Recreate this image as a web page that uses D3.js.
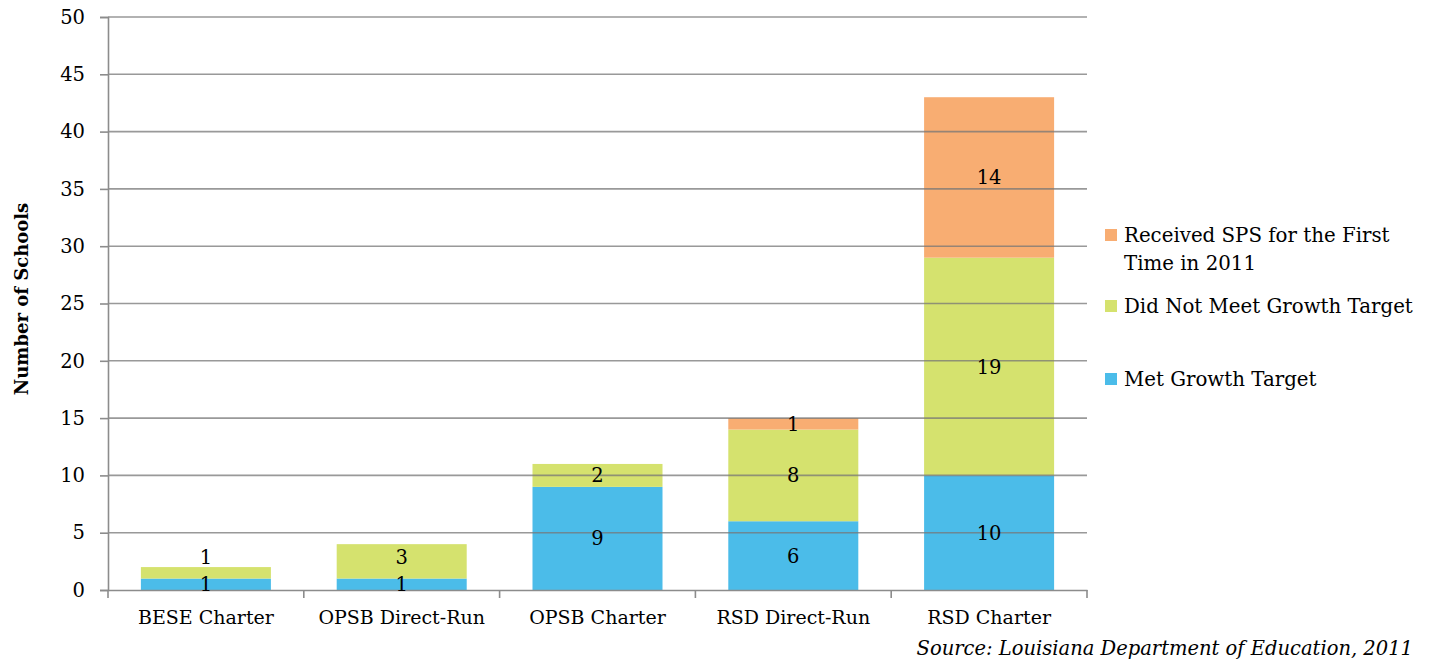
<!DOCTYPE html>
<html>
<head>
<meta charset="utf-8">
<script src="https://cdn.jsdelivr.net/npm/d3@7"></script>
<style>
  body { margin: 0; background: #fff; }
  text { font-family: "DejaVu Serif", serif; fill: #000; }
</style>
</head>
<body>
<div id="chart"></div>
<script>
// data
const categories = ["BESE Charter", "OPSB Direct-Run", "OPSB Charter", "RSD Direct-Run", "RSD Charter"];
const metGrowth = [1, 1, 9, 6, 10];
const notMetGrowth = [1, 3, 2, 8, 19];
const firstSps = [0, 0, 0, 1, 14];
const seriesNames = ["Met Growth Target", "Did Not Meet Growth Target", "Received SPS for the First Time in 2011"];
const yTicks = [0, 5, 10, 15, 20, 25, 30, 35, 40, 45, 50];

const colors = ["#4bbce9", "#d5e26e", "#f8ad72"];

const svgWidth = 1432;
const svgHeight = 662;
const margin = { top: 17, right: 345, bottom: 72, left: 108 };
const width = svgWidth - margin.left - margin.right;
const height = svgHeight - margin.top - margin.bottom;

const svg = d3.select("#chart")
    .append("svg")
    .attr("width", svgWidth)
    .attr("height", svgHeight);

const chartGroup = svg.append("g")
    .attr("transform", `translate(${margin.left}, ${margin.top})`);

const rows = categories.map((c, i) => ({
    cat: c, met: metGrowth[i], notMet: notMetGrowth[i], first: firstSps[i]
}));
const keys = ["met", "notMet", "first"];
const stacked = d3.stack().keys(keys)(rows);

const x = d3.scaleBand()
    .domain(categories)
    .range([0, width])
    .paddingInner(0.336)
    .paddingOuter(0.168);

const y = d3.scaleLinear()
    .domain([0, 50])
    .range([height, 0]);

// bars
stacked.forEach((layer, li) => {
    chartGroup.append("g")
        .selectAll("rect")
        .data(layer.filter(d => d[1] - d[0] > 0))
        .join("rect")
        .attr("x", d => x(d.data.cat))
        .attr("y", d => y(d[1]))
        .attr("width", x.bandwidth())
        .attr("height", d => y(d[0]) - y(d[1]))
        .attr("fill", colors[li]);
});

// gridlines on top, slightly see-through
chartGroup.append("g")
    .selectAll("line")
    .data(yTicks.filter(t => t > 0))
    .join("line")
    .attr("x1", 0)
    .attr("x2", width)
    .attr("y1", d => y(d))
    .attr("y2", d => y(d))
    .attr("stroke", "#777")
    .attr("stroke-opacity", 0.75)
    .attr("stroke-width", 1.6);

// y axis
const leftAxis = d3.axisLeft(y).tickValues(yTicks).tickSize(8).tickPadding(15);
const yAxisG = chartGroup.append("g").call(leftAxis);
yAxisG.select(".domain").attr("stroke", "#8c8c8c").attr("stroke-width", 1.6);
yAxisG.selectAll(".tick line").attr("stroke", "#8c8c8c").attr("stroke-width", 1.6);
yAxisG.selectAll("text")
    .attr("font-family", "DejaVu Serif")
    .attr("font-size", "19.5px")
    .attr("fill", "#000");

// x axis
const bottomAxis = d3.axisBottom(x).tickSize(0).tickPadding(21);
const xAxisG = chartGroup.append("g")
    .attr("transform", `translate(0, ${height})`)
    .call(bottomAxis);
xAxisG.select(".domain").attr("stroke", "#8c8c8c").attr("stroke-width", 1.6);
xAxisG.selectAll("text")
    .attr("font-family", "DejaVu Serif")
    .attr("font-size", "19px")
    .attr("fill", "#000");

// tick marks between categories
const bounds = categories.map(c => x(c) - x.step() * x.paddingInner() / 2)
    .concat([width]);
chartGroup.append("g")
    .selectAll("line")
    .data(bounds)
    .join("line")
    .attr("x1", d => d)
    .attr("x2", d => d)
    .attr("y1", height)
    .attr("y2", height + 8)
    .attr("stroke", "#8c8c8c")
    .attr("stroke-width", 1.6);

// value labels, centred in segment, nudged up when too close to the one below
const labelGap = 27;
const lastLabelY = {};
const labels = [];
stacked.forEach(layer => {
    layer.filter(d => d[1] - d[0] > 0).forEach(d => {
        let ly = y((d[0] + d[1]) / 2);
        const prev = lastLabelY[d.data.cat];
        if (prev !== undefined && prev - ly < labelGap) ly = prev - labelGap;
        lastLabelY[d.data.cat] = ly;
        labels.push({ cat: d.data.cat, value: d[1] - d[0], y: ly });
    });
});
chartGroup.append("g")
    .selectAll("text")
    .data(labels)
    .join("text")
    .attr("x", d => x(d.cat) + x.bandwidth() / 2)
    .attr("y", d => d.y)
    .attr("dy", "0.36em")
    .attr("text-anchor", "middle")
    .attr("font-size", "19.5px")
    .text(d => d.value);

// y title
svg.append("text")
    .attr("transform", "translate(28, 299) rotate(-90)")
    .attr("text-anchor", "middle")
    .attr("font-size", "18px")
    .attr("font-weight", "bold")
    .text("Number of Schools");

// legend (top to bottom: reversed series order)
const legendItems = [
    { lines: ["Received SPS for the First", "Time in 2011"], color: colors[2], y: 242 },
    { lines: ["Did Not Meet Growth Target"], color: colors[1], y: 313 },
    { lines: ["Met Growth Target"], color: colors[0], y: 386 }
];
const legend = svg.append("g");
legendItems.forEach(item => {
    legend.append("rect")
        .attr("x", 1105)
        .attr("y", item.y - 13)
        .attr("width", 12)
        .attr("height", 12)
        .attr("fill", item.color);
    const t = legend.append("text")
        .attr("x", 1124)
        .attr("y", item.y)
        .attr("font-size", "19.8px");
    item.lines.forEach((l, i) => {
        t.append("tspan")
            .attr("x", 1124)
            .attr("dy", i === 0 ? 0 : 28)
            .text(l);
    });
});

// source note
svg.append("text")
    .attr("x", 1413)
    .attr("y", 655)
    .attr("text-anchor", "end")
    .attr("font-size", "19.5px")
    .attr("font-style", "italic")
    .text("Source: Louisiana Department of Education, 2011");
</script>
</body>
</html>
